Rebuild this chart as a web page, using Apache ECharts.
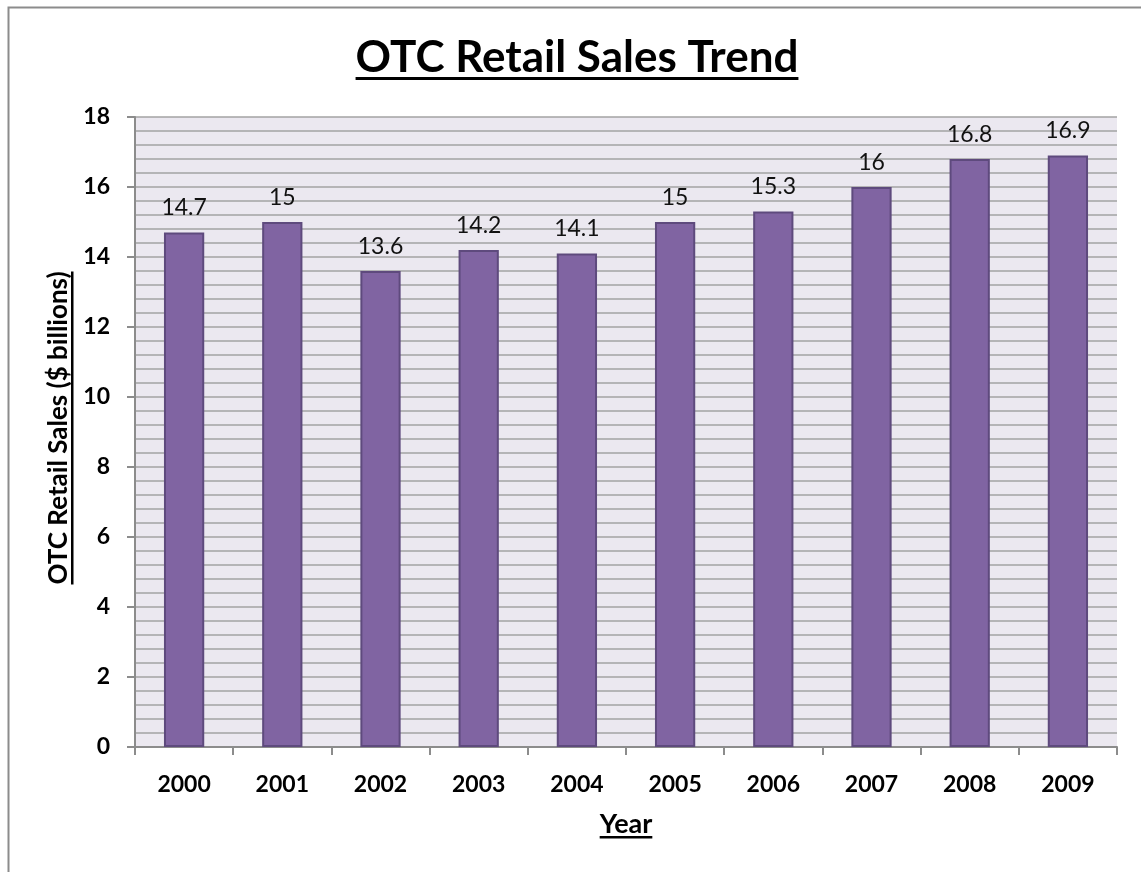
<!DOCTYPE html>
<html>
<head>
<meta charset="utf-8">
<script src="https://cdn.jsdelivr.net/npm/echarts@6/dist/echarts.min.js"></script>
<style>
html,body{margin:0;padding:0;background:#fff;}
#main{width:1141px;height:872px;}
</style>
</head>
<body>
<div id="main"></div>
<script>
var years = ['2000','2001','2002','2003','2004','2005','2006','2007','2008','2009'];
var sales = [14.7, 15, 13.6, 14.2, 14.1, 15, 15.3, 16, 16.8, 16.9];
var titleText = 'OTC Retail Sales Trend';
var yAxisTitle = 'OTC Retail Sales ($ billions)';
var xAxisTitle = 'Year';

var FONT = 'Lato, "Open Sans", sans-serif';
var mctx = document.createElement('canvas').getContext('2d');
function textWidth(txt, size, weight) {
  mctx.font = (weight || 'normal') + ' ' + size + 'px Lato';
  return mctx.measureText(txt).width;
}

var tSize = 44, tW = textWidth(titleText, tSize, 'bold');
var ySize = 26, yW = textWidth(yAxisTitle, ySize, 'bold');
var xSize = 27, xW = textWidth(xAxisTitle, xSize, 'bold');

var chart = echarts.init(document.getElementById('main'), null, {renderer: 'canvas'});
chart.setOption({
  backgroundColor: '#ffffff',
  animation: false,
  grid: {left: 135, right: 24, top: 117, bottom: 125, show: true, backgroundColor: '#ebe8f0', borderWidth: 0},
  xAxis: {
    type: 'category',
    data: years,
    axisLine: {show: true, lineStyle: {color: '#8c8c8c', width: 2}},
    axisTick: {show: true, length: 8, lineStyle: {color: '#8c8c8c', width: 2}},
    axisLabel: {color: '#000', fontFamily: FONT, fontWeight: 'bold', fontSize: 23, margin: 26},
    splitLine: {show: false}
  },
  yAxis: {
    type: 'value',
    min: 0, max: 18, interval: 2,
    axisLine: {show: true, lineStyle: {color: '#8c8c8c', width: 2}},
    axisTick: {show: true, length: 8, lineStyle: {color: '#8c8c8c', width: 2}},
    axisLabel: {color: '#000', fontFamily: FONT, fontWeight: 'bold', fontSize: 23, margin: 25},
    splitLine: {show: true, lineStyle: {color: '#a3a3a3', width: 1.5}},
    minorTick: {show: false, splitNumber: 5},
    minorSplitLine: {show: true, lineStyle: {color: '#a3a3a3', width: 1.5}}
  },
  series: [{
    type: 'bar',
    data: sales,
    barWidth: '41%',
    itemStyle: {color: '#8064a2', borderColor: '#5e4a7d', borderWidth: 2},
    label: {show: true, position: 'top', distance: 13, color: '#111', fontFamily: FONT, fontSize: 23}
  }],
  graphic: [
    {type: 'rect', left: 6, top: 5, shape: {x: 0, y: 0, width: 1200, height: 900}, style: {fill: 'none', stroke: '#8c8c8c', lineWidth: 2}, silent: true, z: 100},
    {type: 'group', x: 577, y: 58, children: [
      {type: 'text', x: 0, y: 0, style: {text: titleText, fontFamily: FONT, fontWeight: 'bold', fontSize: tSize, fill: '#000', textAlign: 'center', textVerticalAlign: 'middle'}},
      {type: 'rect', shape: {x: -tW / 2, y: 19, width: tW, height: 3}, style: {fill: '#000'}}
    ]},
    {type: 'group', x: 59, y: 428, rotation: Math.PI / 2, children: [
      {type: 'text', x: 0, y: 0, style: {text: yAxisTitle, fontFamily: FONT, fontWeight: 'bold', fontSize: ySize, fill: '#000', textAlign: 'center', textVerticalAlign: 'middle'}},
      {type: 'rect', shape: {x: -yW / 2, y: 12, width: yW, height: 2.5}, style: {fill: '#000'}}
    ]},
    {type: 'group', x: 626, y: 824, children: [
      {type: 'text', x: 0, y: 0, style: {text: xAxisTitle, fontFamily: FONT, fontWeight: 'bold', fontSize: xSize, fill: '#000', textAlign: 'center', textVerticalAlign: 'middle'}},
      {type: 'rect', shape: {x: -xW / 2, y: 12, width: xW, height: 2.5}, style: {fill: '#000'}}
    ]}
  ]
});
</script>
</body>
</html>
